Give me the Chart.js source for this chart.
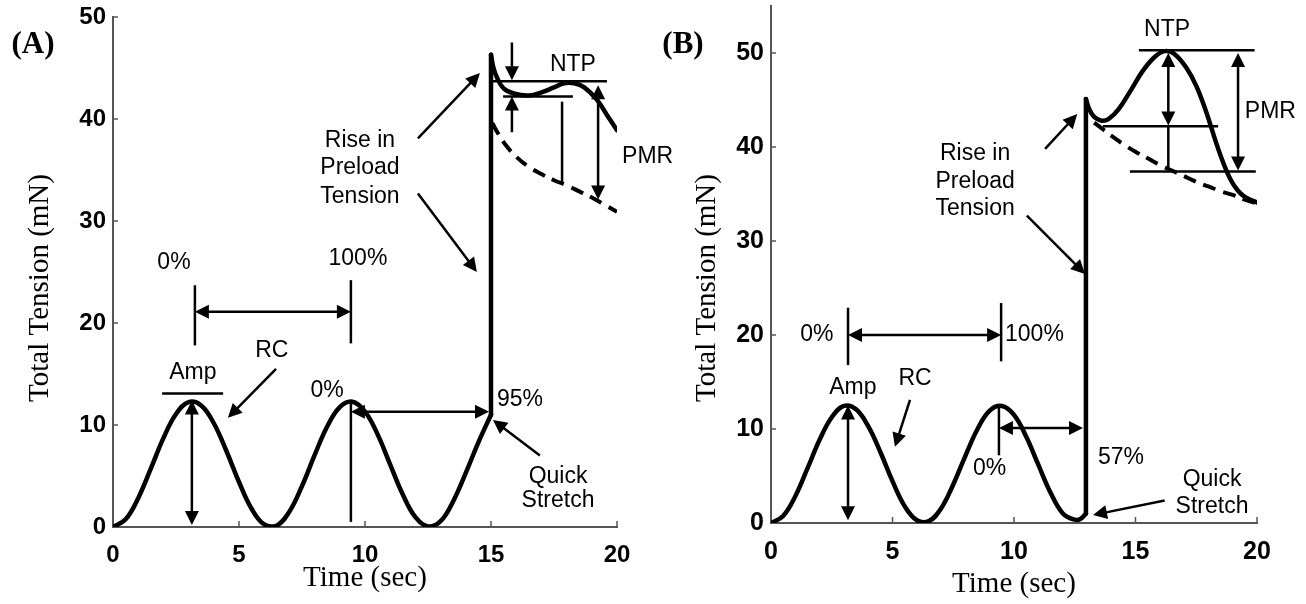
<!DOCTYPE html>
<html>
<head>
<meta charset="utf-8">
<script src="https://cdn.jsdelivr.net/npm/chart.js@4.4.1/dist/chart.umd.min.js"></script>
<style>
  html, body { margin: 0; padding: 0; background: #fff; }
  #wrap { position: relative; width: 1306px; height: 604px; }
  .panel { position: absolute; top: 0; height: 604px; }
</style>
</head>
<body>
<div id="wrap">
  <div class="panel" style="left:0;width:690px"><canvas id="chartA"></canvas></div>
  <div class="panel" style="left:653px;width:653px"><canvas id="chartB"></canvas></div>
</div>
<script>
// ---- data ----
const xTicks = [0, 5, 10, 15, 20];
const yTicks = [0, 10, 20, 30, 40, 50];

// (A) rhythmic contraction, then quick stretch at 15 s (95%)
const timeA = [0, 0.5, 1, 1.5, 2, 2.5, 3, 3.5, 4, 4.5, 5, 5.5, 6, 6.5, 7, 7.5, 8, 8.5, 9, 9.5,
  10, 10.5, 11, 11.5, 12, 12.5, 13, 13.5, 14, 14.5, 15];
const tensionA = [0, 0.75, 2.83, 5.72, 8.71, 11.08, 12.24, 11.91, 10.17, 7.45, 4.41, 1.79, 0.25, 0.14, 1.51, 4.02,
  7.04, 9.85, 11.75, 12.28, 11.31, 9.08, 6.12, 3.19, 0.96, 0.05, 0.57, 2.53, 5.31, 8.3, 11.0];
const jumpTimeA = [15, 15];
const jumpTensionA = [11.0, 46.3];
const activeTimeA = [15, 15.1, 15.25, 15.5, 15.9, 16.5, 17, 17.5, 17.9, 18.3, 18.7, 19.2, 19.6, 20];
const activeTensionA = [46.3, 45.0, 44.0, 43.0, 42.5, 42.3, 42.6, 43.1, 43.5, 43.5, 43.1, 41.9, 40.4, 38.9];
const passiveTimeA = [15.05, 15.3, 15.6, 16, 16.5, 17, 17.5, 18, 18.5, 19, 19.5, 20];
const passiveTensionA = [39.6, 38.5, 37.4, 36.3, 35.3, 34.6, 34.0, 33.5, 32.9, 32.3, 31.6, 30.9];

// (B) quick stretch at 57%
const timeB = [0, 0.5, 1, 1.5, 2, 2.5, 3, 3.5, 4, 4.5, 5, 5.5, 6, 6.5, 7, 7.5, 8, 8.5, 9, 9.5,
  10, 10.5, 11, 11.5, 12, 12.5, 12.75, 12.96];
const tensionB = [0, 0.75, 2.85, 5.8, 8.85, 11.25, 12.45, 12.1, 10.3, 7.55, 4.45, 1.8, 0.3, 0.2, 1.55, 4.1,
  7.15, 10.0, 11.95, 12.45, 11.5, 9.2, 6.2, 3.25, 1.05, 0.35, 0.45, 1.0];
const jumpTimeB = [12.96, 12.96];
const jumpTensionB = [1.0, 45.1];
const activeTimeB = [12.96, 13.1, 13.3, 13.6, 13.9, 14.3, 14.8, 15.3, 15.8, 16.2, 16.6, 17.1, 17.5, 17.9,
  18.3, 18.6, 18.9, 19.2, 19.5, 20];
const activeTensionB = [45.1, 44.0, 43.2, 42.8, 43.0, 44.0, 46.0, 48.1, 49.6, 50.2, 49.9, 48.4, 46.5, 43.8,
  40.6, 38.4, 36.6, 35.4, 34.7, 34.1];
const passiveTimeB = [13.3, 13.6, 14, 14.5, 15, 15.5, 16, 16.5, 17, 17.5, 18, 18.5, 19, 19.5, 20];
const passiveTensionB = [42.6, 42.0, 41.2, 40.3, 39.5, 38.8, 38.1, 37.5, 36.9, 36.3, 35.8, 35.3, 34.9, 34.4, 34.0];

// ---- annotations, in data units ----
const notesA = {
  panel: '(A)', panelAt: [33, 45], yTitleAt: [40, 288],
  texts: [
    ['Amp', 3.17, 15.1], ['RC', 6.3, 17.3], ['0%', 2.42, 25.9], ['100%', 9.72, 26.3],
    ['0%', 8.5, 13.4], ['95%', 16.15, 12.5], ['Quick', 17.66, 4.9], ['Stretch', 17.66, 2.6],
    ['Rise in', 9.8, 37.9], ['Preload', 9.8, 35.2], ['Tension', 9.8, 32.4],
    ['NTP', 18.25, 45.3], ['PMR', 20.2, 36.3, 'left']
  ],
  lines: [
    [1.95, 13.1, 4.37, 13.1], [3.25, 23.7, 3.25, 17.8], [9.44, 24.2, 9.44, 18.0],
    [9.44, 12.4, 9.44, 0.5], [15.08, 43.7, 19.6, 43.7], [15.48, 42.2, 18.25, 42.2],
    [17.82, 41.7, 17.82, 33.7]
  ],
  arrows: [
    [3.13, 12.4, 3.13, 0.2, true], [6.47, 15.5, 4.56, 10.7], [3.25, 21.1, 9.44, 21.1, true],
    [9.44, 11.3, 14.92, 11.3, true], [16.94, 7.0, 15.08, 10.5], [12.1, 38.1, 14.56, 44.5],
    [12.1, 32.7, 14.44, 25.0], [15.83, 47.5, 15.83, 43.8], [15.83, 38.7, 15.83, 42.2],
    [19.25, 43.3, 19.25, 32.1, true]
  ]
};
const notesB = {
  panel: '(B)', panelAt: [30, 45], yTitleAt: [54, 288],
  texts: [
    ['0%', 1.89, 20.0], ['100%', 9.63, 20.0, 'left'], ['Amp', 3.37, 14.4], ['RC', 5.93, 15.4],
    ['0%', 9.0, 5.8], ['57%', 14.4, 6.9], ['Quick', 18.15, 4.6], ['Stretch', 18.15, 1.7],
    ['Rise in', 8.4, 39.3], ['Preload', 8.4, 36.3], ['Tension', 8.4, 33.4],
    ['NTP', 16.3, 52.5], ['PMR', 19.5, 43.8, 'left']
  ],
  lines: [
    [3.17, 22.9, 3.17, 16.8], [9.47, 23.4, 9.47, 17.2], [9.38, 12.4, 9.38, 7.2],
    [15.14, 50.3, 19.9, 50.3], [13.66, 42.2, 18.4, 42.2], [16.35, 42.2, 16.35, 37.6],
    [14.77, 37.4, 19.95, 37.4]
  ],
  arrows: [
    [3.17, 20.0, 9.47, 20.0, true], [3.17, 12.5, 3.17, 0.3, true], [5.72, 13.1, 5.1, 8.1],
    [9.38, 10.1, 12.84, 10.1, true], [16.2, 2.4, 13.25, 0.85], [11.28, 39.8, 12.6, 43.5],
    [10.53, 32.7, 12.92, 26.5], [16.35, 50.0, 16.35, 42.3, true], [19.22, 50.0, 19.22, 37.5, true]
  ]
};

const zip = (xs, ys) => xs.map((x, i) => ({ x: x, y: ys[i] }));

function arrowHead(ctx, x1, y1, x2, y2) {
  const a = Math.atan2(y2 - y1, x2 - x1);
  const L = 14, W = 7;
  ctx.beginPath();
  ctx.moveTo(x2, y2);
  ctx.lineTo(x2 - L * Math.cos(a) + W * Math.sin(a), y2 - L * Math.sin(a) - W * Math.cos(a));
  ctx.lineTo(x2 - L * Math.cos(a) - W * Math.sin(a), y2 - L * Math.sin(a) + W * Math.cos(a));
  ctx.closePath();
  ctx.fill();
}

// draws inward ticks, labels, arrows
const notesPlugin = {
  id: 'notes',
  afterDatasetsDraw(chart, args, o) {
    const ctx = chart.ctx;
    const sx = chart.scales.x, sy = chart.scales.y;
    const X = v => sx.getPixelForValue(v), Y = v => sy.getPixelForValue(v);
    ctx.save();
    // inward tick marks
    ctx.strokeStyle = '#555';
    ctx.lineWidth = 1.5;
    xTicks.forEach(v => {
      if (v === 0) return;
      ctx.beginPath(); ctx.moveTo(X(v), sy.bottom); ctx.lineTo(X(v), sy.bottom - 6); ctx.stroke();
    });
    yTicks.forEach(v => {
      if (v === 0) return;
      ctx.beginPath(); ctx.moveTo(sx.left, Y(v)); ctx.lineTo(sx.left + 5, Y(v)); ctx.stroke();
    });

    ctx.strokeStyle = '#000';
    ctx.fillStyle = '#000';
    ctx.lineWidth = 2.5;
    o.lines.forEach(l => {
      ctx.beginPath(); ctx.moveTo(X(l[0]), Y(l[1])); ctx.lineTo(X(l[2]), Y(l[3])); ctx.stroke();
    });
    o.arrows.forEach(a => {
      let x1 = X(a[0]), y1 = Y(a[1]), x2 = X(a[2]), y2 = Y(a[3]);
      const len = Math.hypot(x2 - x1, y2 - y1);
      const ux = (x2 - x1) / len, uy = (y2 - y1) / len;
      const s = a[4] ? 7 : 0;
      ctx.beginPath();
      ctx.moveTo(x1 + ux * s, y1 + uy * s);
      ctx.lineTo(x2 - ux * 7, y2 - uy * 7);
      ctx.stroke();
      arrowHead(ctx, x1, y1, x2, y2);
      if (a[4]) arrowHead(ctx, x2, y2, x1, y1);
    });

    ctx.font = '23px "Liberation Sans", Arial, sans-serif';
    ctx.textBaseline = 'middle';
    o.texts.forEach(t => {
      ctx.textAlign = t[3] || 'center';
      ctx.fillText(t[0], X(t[1]), Y(t[2]));
    });

    // panel letter and y title
    ctx.font = 'bold 31px "Liberation Serif", "Times New Roman", serif';
    ctx.textAlign = 'center';
    ctx.fillText(o.panel, o.panelAt[0], o.panelAt[1]);
    ctx.translate(o.yTitleAt[0], o.yTitleAt[1]);
    ctx.rotate(-Math.PI / 2);
    ctx.font = '29px "Liberation Serif", "Times New Roman", serif';
    ctx.fillText('Total Tension (mN)', 0, 0);
    ctx.restore();
  }
};

function makeChart(id, d, notes, lay) {
  const solid = { borderColor: '#000', borderWidth: 4.5, pointRadius: 0, showLine: true, fill: false,
    borderCapStyle: 'round', borderJoinStyle: 'round' };
  return new Chart(document.getElementById(id), {
    type: 'scatter',
    data: {
      datasets: [
        Object.assign({ data: zip(d.time, d.tension), tension: 0.4 }, solid),
        Object.assign({ data: zip(d.jumpTime, d.jumpTension), tension: 0 }, solid),
        Object.assign({ data: zip(d.activeTime, d.activeTension), tension: 0.4 }, solid),
        { data: zip(d.passiveTime, d.passiveTension), tension: 0.4, showLine: true, pointRadius: 0,
          borderColor: '#000', borderWidth: 4, borderDash: [13, 8], fill: false }
      ]
    },
    options: {
      responsive: true,
      maintainAspectRatio: false,
      animation: false,
      layout: { padding: { top: lay.top, right: lay.right, left: 0, bottom: 0 } },
      plugins: { legend: { display: false }, tooltip: { enabled: false }, notes: notes },
      scales: {
        x: {
          type: 'linear', min: 0, max: 20,
          afterBuildTicks: s => { s.ticks = xTicks.map(v => ({ value: v })); },
          afterFit: s => { s.height = lay.xh; s.paddingLeft = 0; s.paddingRight = 0; },
          grid: { display: false, drawTicks: false },
          border: { display: true, color: '#555', width: 2 },
          ticks: { color: '#000', padding: 14, maxRotation: 0,
            font: { family: '"Liberation Sans", Arial, sans-serif', weight: 'bold', size: lay.tickSize } },
          title: { display: true, text: 'Time (sec)', color: '#000', padding: { top: 0, bottom: lay.xtPad },
            font: { family: '"Liberation Serif", "Times New Roman", serif', size: 29 } }
        },
        y: {
          type: 'linear', min: 0, max: lay.ymax,
          afterBuildTicks: s => { s.ticks = yTicks.map(v => ({ value: v })); },
          afterFit: s => { s.width = lay.yw; s.paddingTop = 0; s.paddingBottom = 0; },
          grid: { display: false, drawTicks: false },
          border: { display: true, color: '#555', width: 2 },
          ticks: { color: '#000', padding: 7,
            font: { family: '"Liberation Sans", Arial, sans-serif', weight: 'bold', size: lay.tickSize } }
        }
      }
    },
    plugins: [notesPlugin]
  });
}

makeChart('chartA', {
  time: timeA, tension: tensionA, jumpTime: jumpTimeA, jumpTension: jumpTensionA,
  activeTime: activeTimeA, activeTension: activeTensionA, passiveTime: passiveTimeA, passiveTension: passiveTensionA
}, notesA, { top: 17, right: 73, xh: 77, yw: 113, ymax: 50, tickSize: 24, xtPad: 8 });

makeChart('chartB', {
  time: timeB, tension: tensionB, jumpTime: jumpTimeB, jumpTension: jumpTensionB,
  activeTime: activeTimeB, activeTension: activeTensionB, passiveTime: passiveTimeB, passiveTension: passiveTensionB
}, notesB, { top: 6, right: 49, xh: 81, yw: 118, ymax: 55, tickSize: 25, xtPad: 2 });
</script>
</body>
</html>
